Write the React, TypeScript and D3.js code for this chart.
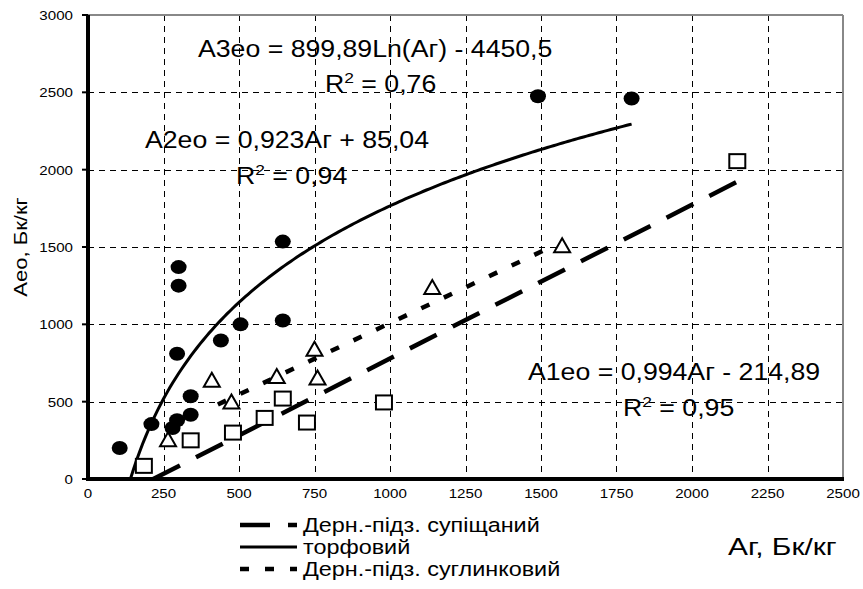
import * as d3 from 'd3';

// sample points: [Аг, Аео]
const peatPoints: [number, number][] = [
  [105, 200], [210, 355], [280, 330], [295, 380], [295, 810], [300, 1250],
  [300, 1370], [340, 415], [340, 535], [440, 895], [505, 1000], [645, 1025],
  [645, 1535], [1490, 2475], [1800, 2460],
];
const loamPoints: [number, number][] = [
  [265, 250], [410, 635], [475, 495], [625, 660], [750, 835], [760, 650],
  [1140, 1235], [1570, 1505],
];
const sandyPoints: [number, number][] = [
  [185, 85], [340, 250], [480, 300], [585, 395], [645, 520], [725, 365],
  [980, 495], [2150, 2055],
];

// trend equations shown on the chart
const sandyFit = { slope: 0.994, intercept: -214.89, from: 216, to: 2150 };
const loamFit = { slope: 0.923, intercept: 85.04, from: 430, to: 1540 };
const peatFit = { k: 899.89, b: -4450.5, from: 141, to: 1800 };

const xTicks = [0, 250, 500, 750, 1000, 1250, 1500, 1750, 2000, 2250, 2500];
const yTicks = [0, 500, 1000, 1500, 2000, 2500, 3000];

const legendLabels = ['Дерн.-підз. супіщаний', 'торфовий', 'Дерн.-підз. суглинковий'];

const W = 863;
const H = 589;
const left = 88, right = 843, top = 15, bottom = 479;
const FONT = 'Arial, "Liberation Sans", sans-serif';

function T({ x, y, size, sx = 1.16, anchor = 'start', children, rotate = 0 }: any) {
  return (
    <text
      transform={`translate(${x},${y}) rotate(${rotate}) scale(${sx},1)`}
      fontSize={size}
      fontFamily={FONT}
      textAnchor={anchor}
      fill="#000"
    >
      {children}
    </text>
  );
}

export default function App() {
  const x = d3.scaleLinear().domain([0, 2500]).range([left, right]);
  const y = d3.scaleLinear().domain([0, 3000]).range([bottom, top]);

  const line = d3.line<[number, number]>().x(d => x(d[0])).y(d => y(d[1]));

  const sandyLine = line([
    [sandyFit.from, sandyFit.slope * sandyFit.from + sandyFit.intercept],
    [sandyFit.to, sandyFit.slope * sandyFit.to + sandyFit.intercept],
  ]);
  const loamLine = line([
    [loamFit.from, loamFit.slope * loamFit.from + loamFit.intercept],
    [loamFit.to, loamFit.slope * loamFit.to + loamFit.intercept],
  ]);
  const peatXs = d3.range(peatFit.from, peatFit.to, 10).concat([peatFit.to]);
  const peatLine = line(peatXs.map(v => [v, peatFit.k * Math.log(v) + peatFit.b] as [number, number]));

  const longDash = '30 18';
  const shortDash = '9 16';

  // dashed grid drawn as short segments
  const dashLen = 6, dashGap = 5;
  const vDash = d3.range(top, bottom, dashLen + dashGap);
  const hDash = d3.range(left, right, dashLen + dashGap);

  return (
    <svg width={W} height={H} style={{ position: 'absolute', left: 0, top: 0 }}>
      <rect width={W} height={H} fill="#fff" />

      {/* grid */}
      <g fill="#000">
        {xTicks.slice(1, -1).map(t =>
          vDash.map(d => (
            <rect key={'gx' + t + '-' + d} x={Math.round(x(t))} y={d} width={1} height={Math.min(dashLen, bottom - d)} />
          ))
        )}
        {yTicks.slice(1, -1).map(t =>
          hDash.map(d => (
            <rect key={'gy' + t + '-' + d} x={d} y={Math.round(y(t))} width={Math.min(dashLen, right - d)} height={1} />
          ))
        )}
      </g>

      {/* frame */}
      <line x1={left} x2={right} y1={top} y2={top} stroke="#888" strokeWidth={2} />
      <line x1={right} x2={right} y1={top} y2={bottom} stroke="#888" strokeWidth={2} />

      {/* trend lines */}
      <path d={sandyLine!} fill="none" stroke="#000" strokeWidth={4.5} strokeDasharray={longDash} />
      <path d={loamLine!} fill="none" stroke="#000" strokeWidth={4.5} strokeDasharray={shortDash} />
      <path d={peatLine!} fill="none" stroke="#000" strokeWidth={3} />

      {/* points */}
      {peatPoints.map((p, i) => (
        <ellipse key={'c' + i} cx={x(p[0])} cy={y(p[1])} rx={8} ry={7} fill="#000" />
      ))}
      {loamPoints.map((p, i) => {
        const cx = x(p[0]), cy = y(p[1]);
        return (
          <path key={'t' + i} d={`M${cx},${cy - 8}L${cx + 8},${cy + 6}L${cx - 8},${cy + 6}Z`} fill="#fff" stroke="#000" strokeWidth={2} />
        );
      })}
      {sandyPoints.map((p, i) => (
        <rect key={'s' + i} x={x(p[0]) - 8} y={y(p[1]) - 7} width={16} height={14} fill="#fff" stroke="#000" strokeWidth={2} />
      ))}

      {/* axes */}
      <line x1={left} x2={left} y1={top} y2={bottom + 2} stroke="#000" strokeWidth={4} />
      <line x1={left - 2} x2={right + 1} y1={bottom} y2={bottom} stroke="#000" strokeWidth={4} />
      {yTicks.map(t => (
        <g key={'yt' + t}>
          <rect x={left - 6} y={y(t) - 1} width={6} height={2} fill="#000" />
          <T x={left - 15} y={y(t) + 5} size={13.5} anchor="end" sx={1.12}>{t}</T>
        </g>
      ))}
      {xTicks.map(t => (
        <g key={'xt' + t}>
          <T x={x(t)} y={bottom + 19} size={13.5} anchor="middle" sx={1.12}>{t}</T>
        </g>
      ))}

      {/* equations */}
      <T x={198} y={57} size={23}>А3ео = 899,89Ln(Аг) - 4450,5</T>
      <T x={325} y={92} size={23}>R<tspan dy={-9} fontSize={15}>2</tspan><tspan dy={9}> = 0,76</tspan></T>
      <T x={145} y={148} size={23}>А2ео = 0,923Аг + 85,04</T>
      <T x={236} y={184} size={23}>R<tspan dy={-9} fontSize={15}>2</tspan><tspan dy={9}> = 0,94</tspan></T>
      <T x={528} y={380} size={23}>А1ео = 0,994Аг - 214,89</T>
      <T x={623} y={416} size={23}>R<tspan dy={-9} fontSize={15}>2</tspan><tspan dy={9}> = 0,95</tspan></T>

      {/* axis titles */}
      <T x={27} y={247} size={19} anchor="middle" rotate={-90}>Аео, Бк/кг</T>
      <T x={728} y={555} size={23} sx={1.3}>Аг, Бк/кг</T>

      {/* legend */}
      {legendLabels.map((lbl, i) => {
        const ly = 525 + i * 22;
        const dash = i === 0 ? longDash : i === 2 ? shortDash : undefined;
        return (
          <g key={'lg' + i}>
            <line x1={240} x2={297} y1={ly} y2={ly} stroke="#000" strokeWidth={i === 1 ? 3 : 4.5} strokeDasharray={dash} />
            <T x={303} y={ly + 7} size={19.5} sx={1.2}>{lbl}</T>
          </g>
        );
      })}
    </svg>
  );
}
